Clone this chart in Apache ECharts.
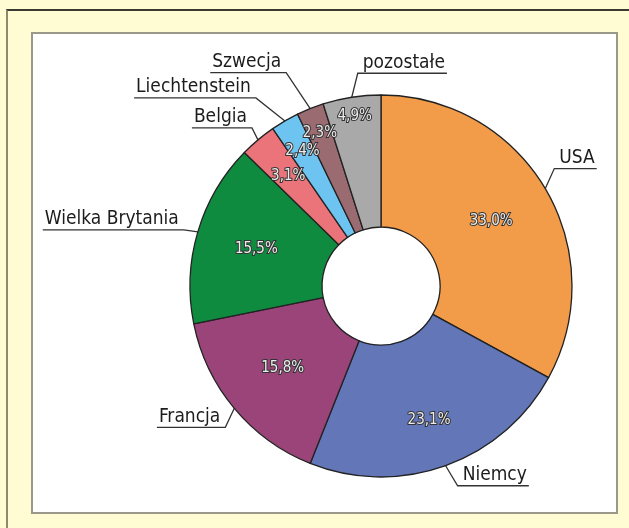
<!DOCTYPE html>
<html><head><meta charset="utf-8">
<script src="https://cdn.jsdelivr.net/npm/echarts@6/dist/echarts.min.js"></script>
<style>
html,body{margin:0;padding:0;background:#fffbd3;overflow:hidden;}
#frame{position:absolute;left:6px;top:9px;width:640px;height:540px;border-top:2px solid #3a3a30;border-left:2px solid #8c8a68;}
#inner{position:absolute;left:31px;top:32px;width:583px;height:478px;background:#fff;border:2px solid #9a9888;}
#chart{position:absolute;left:0;top:0;width:629px;height:528px;}
</style></head><body>
<div id="frame"></div><div id="inner"></div><div id="chart"></div>
<script>
const categories = ['USA','Niemcy','Francja','Wielka Brytania','Belgia','Liechtenstein','Szwecja','pozostałe'];
const shares = [33.0, 23.1, 15.8, 15.5, 3.1, 2.4, 2.3, 4.9];
const colors = ['#f29b49','#6276b8','#9a4479','#0f8b40','#ea7479','#6ec4f0','#9b6b72','#a9a9a9'];

// layout-only settings for the annotation labels
const pieCenter = [381, 286];
const elbowOffsets = [[9,-20],[12,20],[-9,19],[-14,-2],[-6,-12],[-29,-23],[-24,-36],[6,-24]];
const labelSides = [1,1,-1,-1,-1,-1,-1,1];
const insideShift = [0,14,0,2,16,28,37,44];

const FONT = "'Liberation Sans Narrow','DejaVu Sans Condensed','Arial Narrow',sans-serif";

const ringData = categories.map((n, i) => ({
  name: n, value: shares[i],
  itemStyle: { color: colors[i] }
}));
const labelData = categories.map((n, i) => ({ name: n, value: shares[i] }));

const chart = echarts.init(document.getElementById('chart'), null, { renderer: 'canvas' });
chart.setOption({
  backgroundColor: 'transparent',
  animation: false,
  series: [
    {
      type: 'pie',
      center: pieCenter,
      radius: [59, 191],
      startAngle: 90,
      clockwise: true,
      silent: true,
      avoidLabelOverlap: false,
      itemStyle: { borderColor: '#222', borderWidth: 1.3 },
      label: {
        show: true,
        position: 'inside',
        fontFamily: FONT,
        fontSize: 15,
        color: '#ececec',
        textBorderColor: '#333333',
        textBorderWidth: 2,
        formatter: p => p.value.toFixed(1).replace('.', ',') + '%'
      },
      labelLine: { show: false },
      labelLayout: function (p) {
        const i = p.dataIndex;
        const r = p.labelRect;
        const cx = r.x + r.width / 2, cy = r.y + r.height / 2;
        const vx = cx - pieCenter[0], vy = cy - pieCenter[1];
        const d = Math.sqrt(vx * vx + vy * vy) || 1;
        return { dx: vx / d * insideShift[i], dy: vy / d * insideShift[i] };
      },
      data: ringData
    },
    {
      type: 'pie',
      center: pieCenter,
      radius: [59, 191],
      startAngle: 90,
      clockwise: true,
      silent: true,
      avoidLabelOverlap: false,
      itemStyle: { color: 'rgba(0,0,0,0)', borderWidth: 0 },
      label: {
        show: true,
        position: 'outside',
        fontFamily: FONT,
        fontSize: 19,
        color: '#1c1c1c',
        formatter: '{b}'
      },
      labelLine: { show: true, length: 15, length2: 15, lineStyle: { color: '#333', width: 1.3 } },
      labelLayout: function (p) {
        const i = p.dataIndex;
        const pts = p.labelLinePoints;
        if (!pts) return {};
        const p1 = pts[0];
        const e = [p1[0] + elbowOffsets[i][0], p1[1] + elbowOffsets[i][1]];
        const s = labelSides[i];
        const w = p.labelRect.width;
        return {
          x: e[0] + s * 5,
          y: e[1] - 1,
          align: s > 0 ? 'left' : 'right',
          verticalAlign: 'bottom',
          labelLinePoints: [p1, e, [e[0] + s * (w + 7), e[1]]]
        };
      },
      data: labelData
    }
  ]
});
</script>
</body></html>
